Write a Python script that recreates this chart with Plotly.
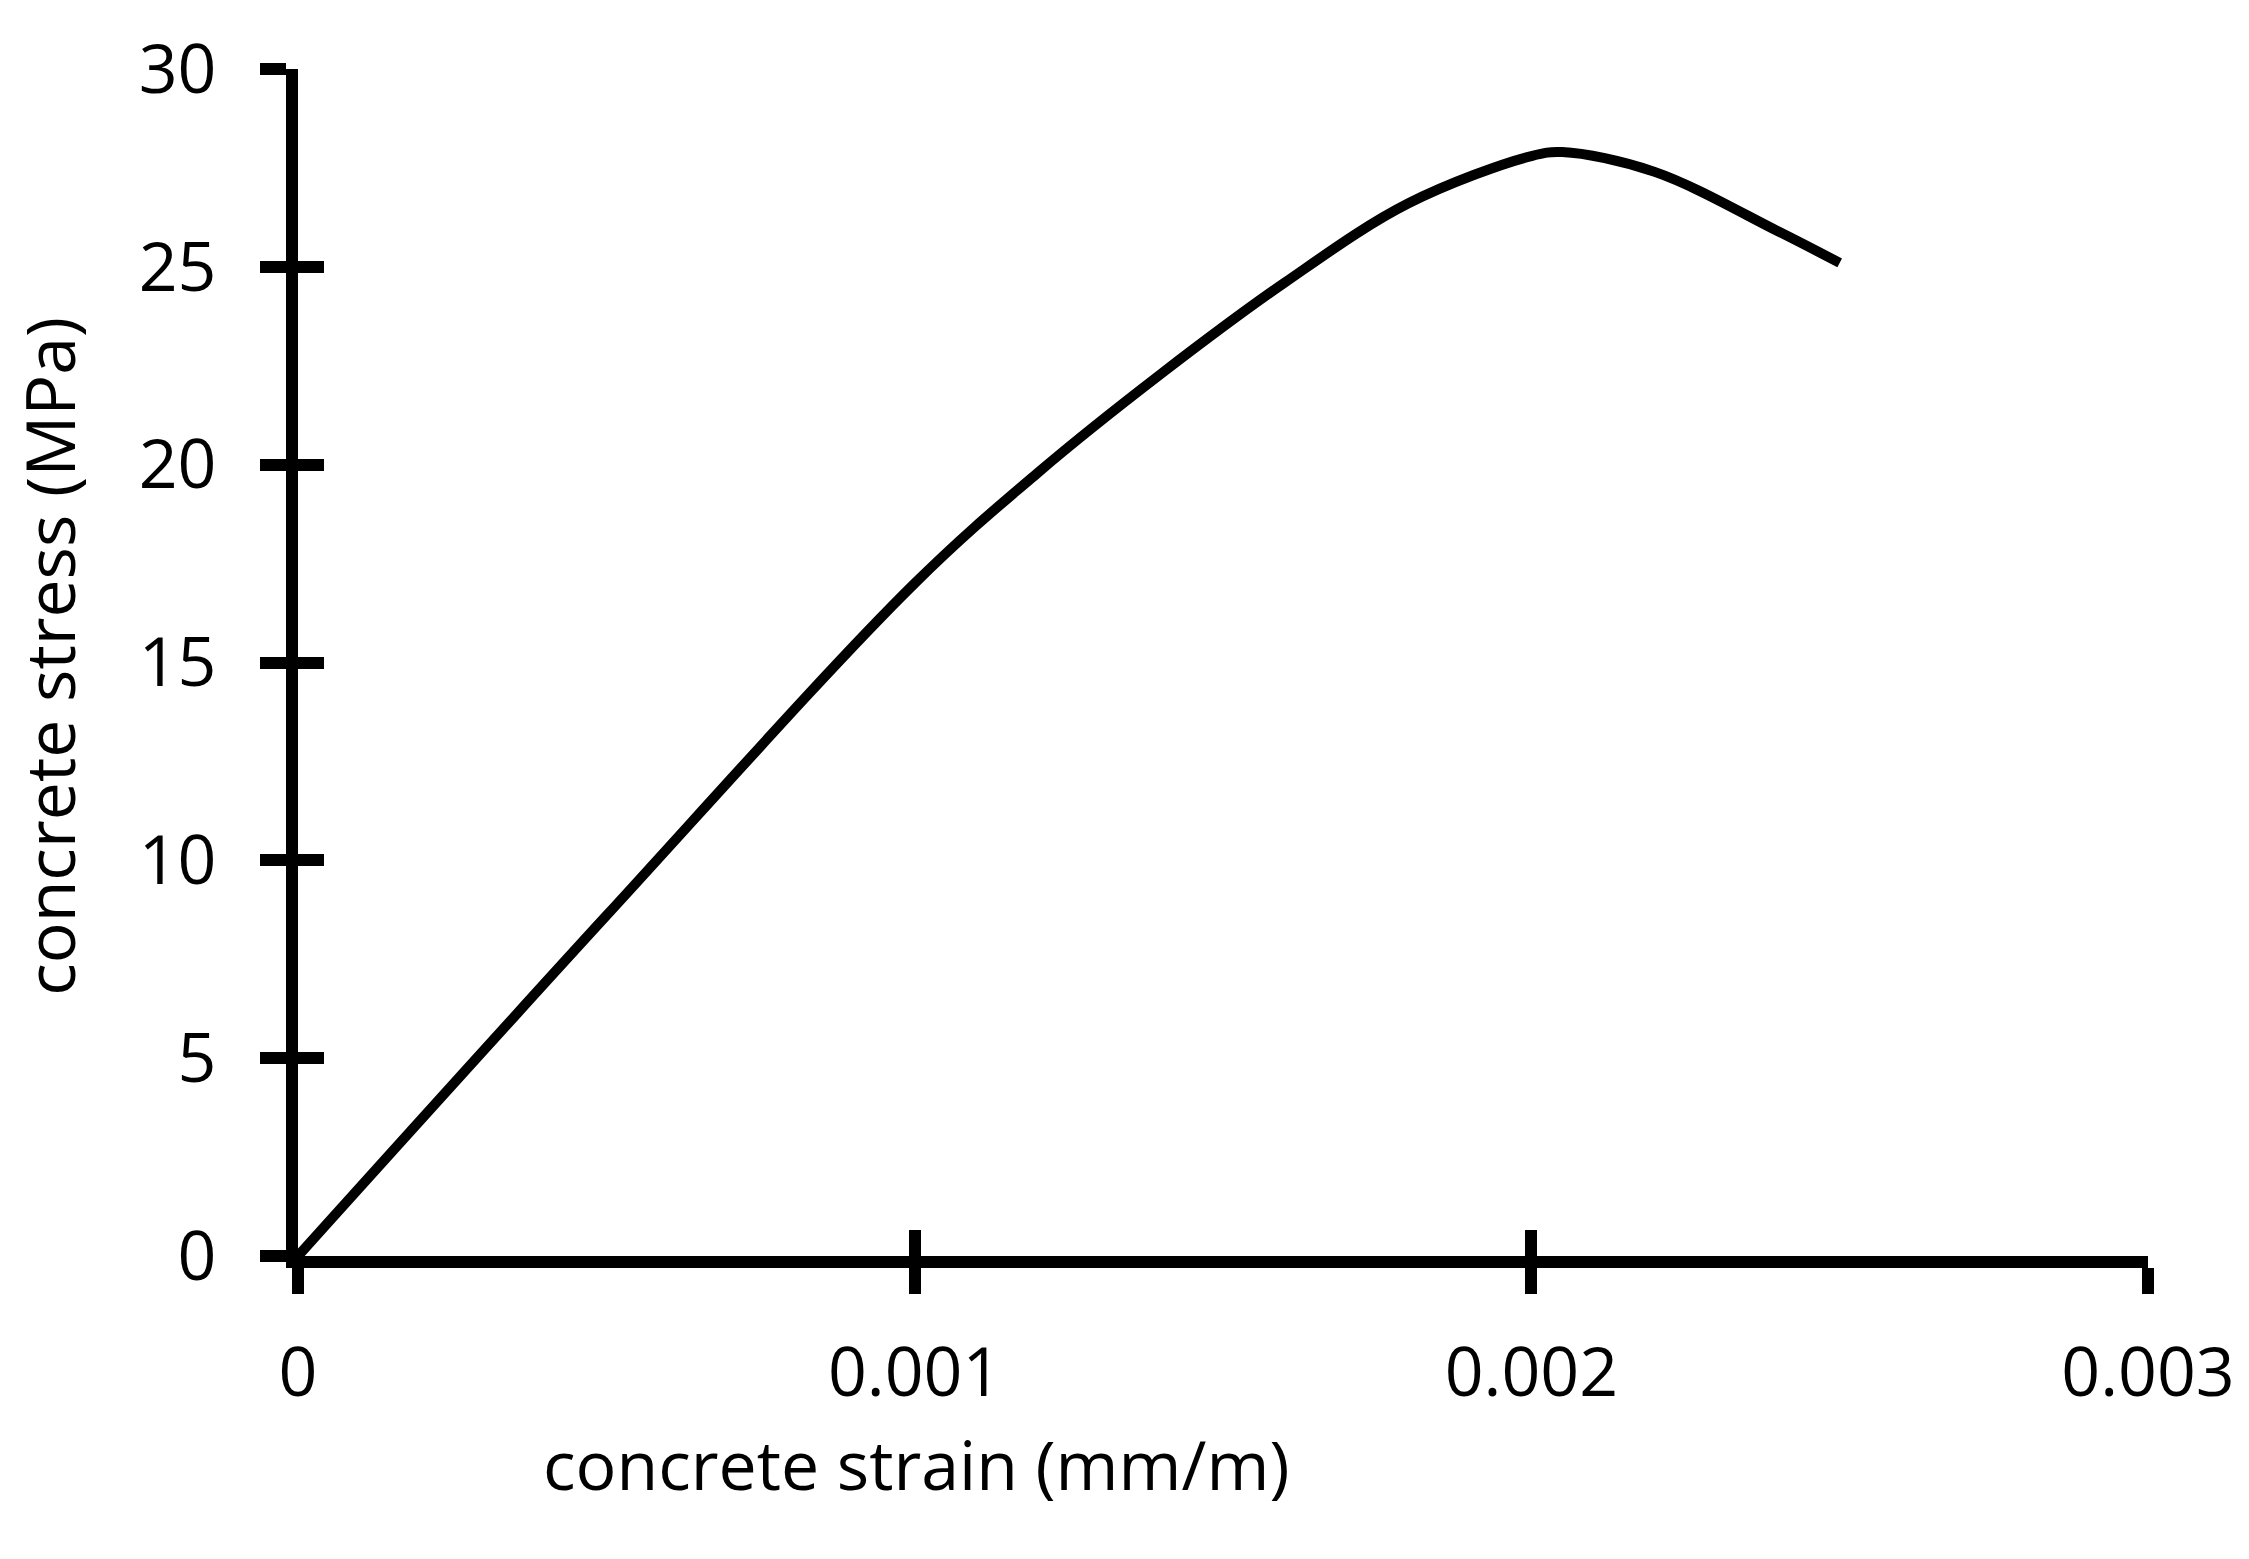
import plotly.graph_objects as go

strain = [0, 0.0005, 0.001, 0.0012, 0.0014, 0.0016, 0.0018, 0.002, 0.00205, 0.0022, 0.0024, 0.0025]
stress = [0, 8.6, 17.0, 19.8, 22.3, 24.6, 26.6, 27.8, 27.9, 27.4, 25.9, 25.1]

x_ticks = [0, 0.001, 0.002, 0.003]
x_labels = ["0", "0.001", "0.002", "0.003"]
y_ticks = [0, 5, 10, 15, 20, 25, 30]

FONT = dict(family="Open Sans", size=68, color="black")

fig = go.Figure()
fig.add_trace(go.Scatter(x=strain, y=stress, mode="lines",
                         line=dict(color="black", width=10, shape="spline"),
                         showlegend=False))
# invisible trace on overlay axes so they render
fig.add_trace(go.Scatter(x=[0], y=[0], xaxis="x2", yaxis="y2", mode="markers",
                         marker=dict(opacity=0), showlegend=False, hoverinfo="skip"))

fig.update_layout(
    width=2249, height=1559,
    plot_bgcolor="white", paper_bgcolor="white",
    margin=dict(l=290, r=109, t=50, b=311),
    font=FONT,
    xaxis=dict(range=[0, 0.003], tickvals=x_ticks, ticktext=x_labels,
               showgrid=False, zeroline=False, showline=True, linecolor="black",
               linewidth=12, ticks="outside", ticklen=26, tickwidth=12,
               tickcolor="black", ticklabelstandoff=20),
    yaxis=dict(range=[0, 30], tickvals=y_ticks, showgrid=False, zeroline=False,
               showline=True, linecolor="black", linewidth=12, ticks="outside",
               ticklen=26, tickwidth=12, tickcolor="black", ticklabelstandoff=30),
    xaxis2=dict(range=[0, 0.003], tickvals=x_ticks, overlaying="x", side="bottom",
                showgrid=False, zeroline=False, showline=False, showticklabels=False,
                ticks="inside", ticklen=26, tickwidth=12, tickcolor="black"),
    yaxis2=dict(range=[0, 30], tickvals=y_ticks, overlaying="y", side="left",
                showgrid=False, zeroline=False, showline=False, showticklabels=False,
                ticks="inside", ticklen=26, tickwidth=12, tickcolor="black"),
    annotations=[
        dict(text="concrete strain (mm/m)", xref="paper", yref="paper",
             x=(908 - 290) / 1850, y=-0.175, xanchor="center", yanchor="middle",
             showarrow=False, font=FONT),
        dict(text="concrete stress (MPa)", xref="paper", yref="paper",
             x=-0.135, y=0.505, textangle=-90, xanchor="center", yanchor="middle",
             showarrow=False, font=FONT),
    ],
)

fig.write_html("out.html")
